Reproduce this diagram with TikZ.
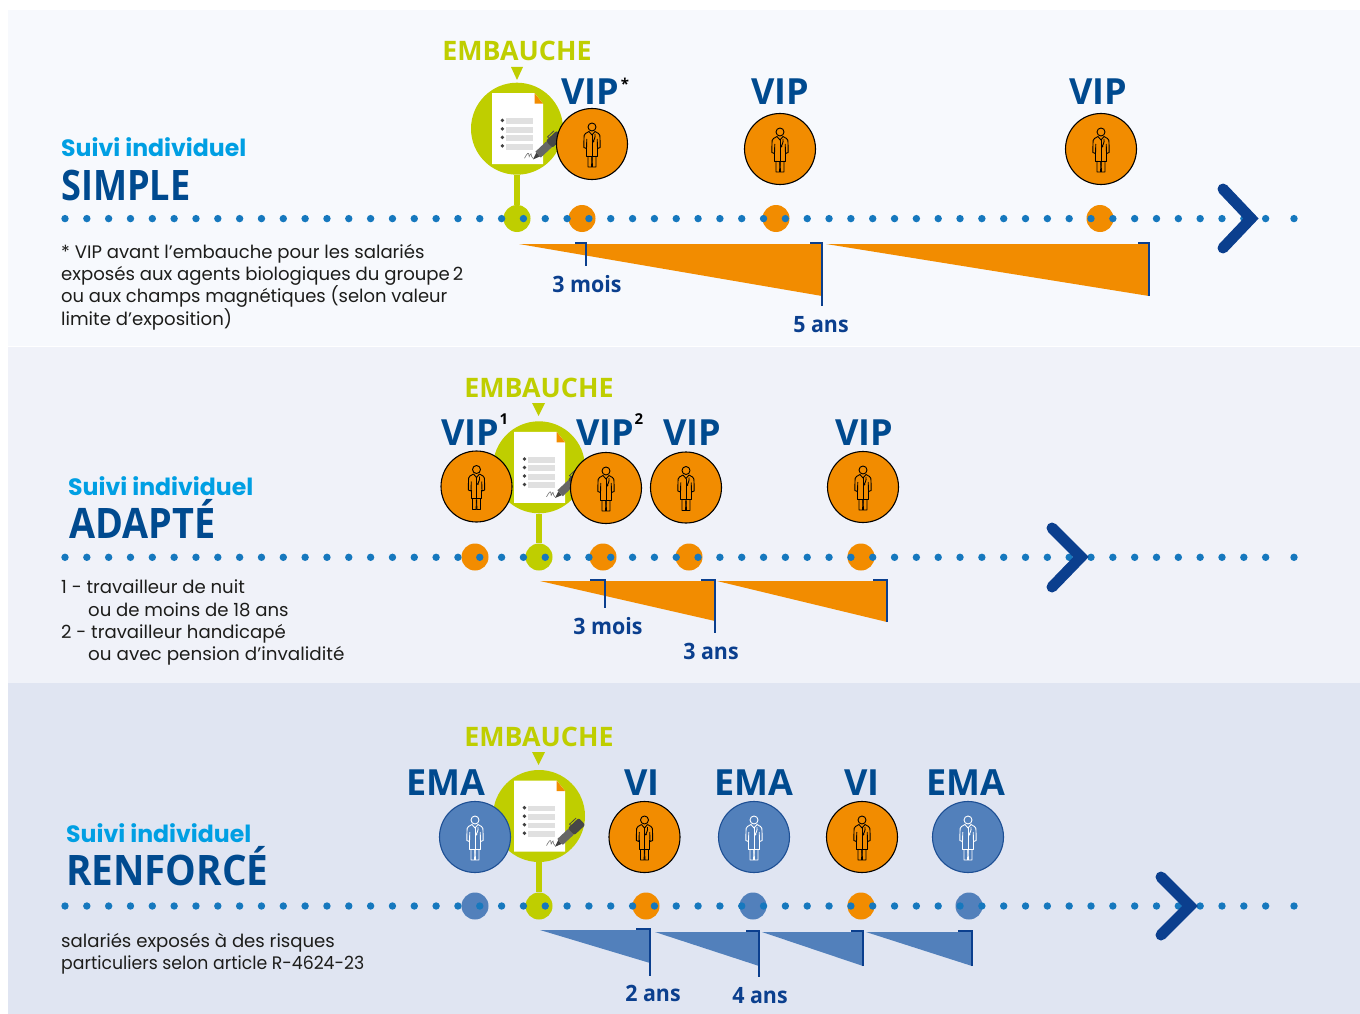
\documentclass[tikz,border=0pt]{standalone}
\usepackage{fontspec}
\setmainfont{Poppins}
\newfontfamily\myr{Open Sans}
\newfontfamily\myrh[FakeStretch=0.9]{Open Sans}
\newfontfamily\myrs[FakeStretch=0.86]{Open Sans}
\newfontfamily\myrr[FakeStretch=0.92]{Open Sans}
\newfontfamily\myrd[FakeStretch=0.95]{Open Sans}
\newfontfamily\gth{Poppins}
\newfontfamily\gthn[FakeStretch=0.955]{Poppins}
\newfontfamily\gthm[FakeStretch=0.992]{Poppins}
\newfontfamily\gthw[FakeStretch=1.015]{Poppins}
\definecolor{pa}{HTML}{F7F9FD}
\definecolor{pb}{HTML}{F0F2F9}
\definecolor{pc}{HTML}{E0E5F2}
\definecolor{org}{HTML}{F28C00}
\definecolor{navy}{HTML}{0B3F8E}
\definecolor{titl}{HTML}{004A8F}
\definecolor{blu}{HTML}{5280BB}
\definecolor{bluedge}{HTML}{1D4F94}
\definecolor{grn}{HTML}{BFCE00}
\definecolor{dotc}{HTML}{1678BE}
\definecolor{cyan}{HTML}{009FE3}
\definecolor{txt}{HTML}{1D1D1B}
\tikzset{
  doctor/.pic={
    \begin{scope}[line width=.9pt,line join=round,fill=none]
      \draw (0,-17) circle (4);
      \draw (-3,-12.5) -- (-6.5,-10.5) .. controls (-8,-9.5) and (-8,-8) .. (-8,-6) -- (-8.2,3.5) -- (-5.5,4.5) -- (-5.2,-5);
      \draw (3,-12.5) -- (6.5,-10.5) .. controls (8,-9.5) and (8,-8) .. (8,-6) -- (8.2,3.5) -- (5.5,4.5) -- (5.2,-5);
      \draw (-5.2,3) -- (-5.2,12) -- (5.2,12) -- (5.2,3);
      \draw (-4,12) -- (-4,23) -- (-.4,23) -- (-.1,13);
      \draw (4,12) -- (4,23) -- (.4,23) -- (.1,13);
      \draw (-3,-12.5) -- (0,-9) -- (3,-12.5);
      \draw (0,-9) -- (0,12);
      \draw (3,-10) .. controls (3.5,-6) and (2,-5) .. (1.5,-3);
      \fill (1.4,-2.5) circle (1);
    \end{scope}
  },
  docpage/.pic={
    \fill[white] (-25,-35.5) -- (17.6,-35.5) -- (26,-25) -- (26,35.5) -- (-25,35.5) -- cycle;
    \fill[org] (17.6,-35.5) -- (26,-25) -- (17.6,-25) -- cycle;
    \foreach \yy in {-7.5,1,9.5,18}{
      \fill[black!12] (-11.5,\yy-2.9) rectangle (16,\yy+2.9);
      \fill[black!75] (-14.6,\yy-.8) circle (1.9);
    }
    \draw[black!55,line width=.6pt] (7.5,29.5) .. controls (10,25) and (12,22) .. (12,27) .. controls (12,30) and (13,25) .. (14,25) .. controls (14.5,27) and (14.5,29) .. (16,29.5);
    \begin{scope}[shift={(16,30.7)},x={(0.73pt,0.683pt)},y={(0.683pt,-0.73pt)}]
      \fill[black!75] (0,0) -- (7,-2.6) -- (7,2.6) -- cycle;
      \fill[black!60] (7,-4) -- (22,-4) -- (22,4) -- (7,4) -- cycle;
      \fill[black!72,rounded corners=2pt] (22,-4.8) -- (37,-4.8) -- (37,4.8) -- (22,4.8) -- cycle;
      \draw[black!72,line width=.8pt] (26,-4.8) -- (26,-6.5) -- (35,-6.5);
    \end{scope}
  },
  bigc/.style={circle,fill=grn,minimum size=92pt,inner sep=0pt},
  gdot/.style={circle,fill=grn,minimum size=27pt,inner sep=0pt},
  stem/.style={grn,line width=6pt},
  odot/.style={circle,fill=org,minimum size=27pt,inner sep=0pt},
  bdot/.style={circle,fill=blu,minimum size=27pt,inner sep=0pt},
  odisc/.style={circle,draw=black,line width=1.1pt,fill=org,minimum size=71pt,inner sep=0pt},
  bdisc/.style={circle,draw=bluedge,line width=1.1pt,fill=blu,minimum size=71pt,inner sep=0pt},
  big/.style={font=\myr\bfseries\fontsize{36}{36}\selectfont,text=titl,anchor=base,inner sep=0pt},
  emb/.style={font=\myr\bfseries\fontsize{26.8}{26.8}\selectfont,text=grn,anchor=base,inner sep=0pt},
  suivi/.style={font=\gth\bfseries\fontsize{23.6}{23.6}\selectfont,text=cyan,anchor=base west,inner sep=0pt},
  head/.style={font=\myrh\bfseries\fontsize{42}{42}\selectfont,text=titl,anchor=base west,inner sep=0pt},
  body/.style={font=\gth\fontsize{18.1}{22.3}\selectfont,text=txt,anchor=north west,inner sep=0pt,align=left},
  dur/.style={font=\myrd\bfseries\fontsize{22.5}{22.5}\selectfont,text=navy,anchor=base,inner sep=0pt},
  sup/.style={font=\myr\bfseries\fontsize{15}{15}\selectfont,text=black,anchor=base,inner sep=0pt},
  brk/.style={navy,line width=2pt,line cap=butt,line join=miter},
  chev/.style={navy,line width=11pt,line cap=round,line join=miter},
}
\newcommand{\dotrow}[1]{%
  \foreach \k in {0,...,55}{\fill[dotc] ({65+21.83*\k},#1) circle (3.7);}
  \fill[dotc] (1294,#1) circle (3.7);
}
\begin{document}
\begin{tikzpicture}[x=1pt,y=-1pt]
\useasboundingbox (0,0) rectangle (1360,1014);
\fill[white] (0,0) rectangle (1360,1014);
\fill[pa] (8,10) rectangle (1360,346);
\fill[pb] (8,347) rectangle (1360,683);
\fill[pc] (8,683) rectangle (1360,1014);

% ---------- SIMPLE
\node[suivi] (s1) at (61,157) {Suivi individuel};
\node[head,font=\myrs\bfseries\fontsize{42}{42}\selectfont] (h1) at (61,200.5) {SIMPLE};
\node[body] (b1) at (61,244) {* VIP avant l’embauche pour les salariés\\exposés aux agents biologiques du groupe\,2\\{\gthm ou aux champs magnétiques (selon valeur}\\limite d’exposition)};
\node[emb] (e1) at (517,61) {EMBAUCHE};
\fill[grn] (511,67) -- (523,67) -- (517,80) -- cycle;
\node[bigc] (bc1) at (517,128.7) {};
\node[gdot] (gd1) at (517,218.5) {};
\draw[stem] (bc1) -- (gd1);
\pic at (517,128.7) {docpage};
\node[odisc] (c11) at (592,144) {}; \pic[color=black] at (592,144) {doctor};
\node[odisc] (c12) at (780,149) {}; \pic[color=black] at (780,149) {doctor};
\node[odisc] (c13) at (1101,149) {}; \pic[color=black] at (1101,149) {doctor};
\node[big] (v11) at (590,105) {VIP};
\node[big] (v12) at (780,105) {VIP};
\node[big] (v13) at (1098,105) {VIP};
\node[sup] (st1) at (625,90) {*};
\node[odot] (d11) at (582,218.5) {};
\node[odot] (d12) at (776,218.5) {};
\node[odot] (d13) at (1100,218.5) {};
\dotrow{218.6}
\draw[chev] (1223,189) -- (1251,218.5) -- (1223,248);
\fill[org] (519,244) -- (822,244) -- (822,296) -- cycle;
\fill[org] (826,244) -- (1149,244) -- (1149,296) -- cycle;
\draw[brk] (575,243) -- (586,243) -- (586,266);
\draw[brk] (810,243) -- (822,243) -- (822,306);
\draw[brk] (1138,243) -- (1149,243) -- (1149,296);
\node[dur] (l11) at (587,292) {3 mois};
\node[dur] (l12) at (821,332) {5 ans};

% ---------- ADAPTE
\node[suivi] (s2) at (68,495) {Suivi individuel};
\node[head] (h2) at (69,538) {ADAPTÉ};
\node[body] (b2) at (61,580) {1 - travailleur de nuit\\\hspace*{27pt}ou de moins de 18 ans\\2 - travailleur handicapé\\\hspace*{27pt}{\gthw ou avec pension d’invalidité}};
\node[emb] (e2) at (539,397) {EMBAUCHE};
\fill[grn] (532,403) -- (545,403) -- (538.5,416) -- cycle;
\node[bigc] (bc2) at (539,467.3) {};
\node[gdot] (gd2) at (539,557) {};
\draw[stem] (bc2) -- (gd2);
\pic at (539,467.3) {docpage};
\node[odisc] (c21) at (476.5,486.5) {}; \pic[color=black] at (476.5,486.5) {doctor};
\node[odisc] (c22) at (606,488) {}; \pic[color=black] at (606,488) {doctor};
\node[odisc] (c23) at (686,487.5) {}; \pic[color=black] at (686,487.5) {doctor};
\node[odisc] (c24) at (863,487) {}; \pic[color=black] at (863,487) {doctor};
\node[big] (v21) at (470,445) {VIP};
\node[big] (v22) at (605,445) {VIP};
\node[big] (v23) at (692,445) {VIP};
\node[big] (v24) at (864,445) {VIP};
\node[sup] (su1) at (504,424) {1};
\node[sup] (su2) at (639,424) {2};
\node[odot] (d21) at (475,557) {};
\node[odot] (d22) at (603,557) {};
\node[odot] (d23) at (689,557) {};
\node[odot] (d24) at (861,557) {};
\dotrow{557.3}
\draw[chev] (1052,528) -- (1081,557) -- (1052,587);
\fill[org] (540,581) -- (715,581) -- (715,621) -- cycle;
\fill[org] (717,581) -- (887,581) -- (887,622) -- cycle;
\draw[brk] (590,580) -- (605,580) -- (605,608);
\draw[brk] (701,580) -- (715,580) -- (715,633);
\draw[brk] (873,580) -- (887,580) -- (887,622);
\node[dur] (l21) at (608,634) {3 mois};
\node[dur] (l22) at (711,659) {3 ans};

% ---------- RENFORCE
\node[suivi] (s3) at (66,842) {Suivi individuel};
\node[head,font=\myrr\bfseries\fontsize{42}{42}\selectfont] (h3) at (66,885) {RENFORCÉ};
\node[body] (b3) at (61,933) {salariés exposés à des risques\\{\gthn particuliers selon article R-4624-23}};
\node[emb] (e3) at (539,746) {EMBAUCHE};
\fill[grn] (532,752) -- (545,752) -- (538.5,765) -- cycle;
\node[bigc] (bc3) at (539,816) {};
\node[gdot] (gd3) at (539,906) {};
\draw[stem] (bc3) -- (gd3);
\pic at (539,816) {docpage};
\node[bdisc] (c31) at (475,837) {}; \pic[color=white] at (475,837) {doctor};
\node[odisc] (c32) at (644.5,837) {}; \pic[color=black] at (644.5,837) {doctor};
\node[bdisc] (c33) at (754,837) {}; \pic[color=white] at (754,837) {doctor};
\node[odisc] (c34) at (862,837) {}; \pic[color=black] at (862,837) {doctor};
\node[bdisc] (c35) at (968,837) {}; \pic[color=white] at (968,837) {doctor};
\node[big] (v31) at (446,795) {EMA};
\node[big] (v32) at (642,795) {VI};
\node[big] (v33) at (754,795) {EMA};
\node[big] (v34) at (862,795) {VI};
\node[big] (v35) at (966,795) {EMA};
\node[bdot] (d31) at (475,906) {};
\node[odot] (d32) at (646,906) {};
\node[bdot] (d33) at (753,906) {};
\node[odot] (d34) at (861,906) {};
\node[bdot] (d35) at (969,906) {};
\dotrow{906}
\draw[chev] (1161,877) -- (1190,906) -- (1161,935);
\fill[blu] (540,930) -- (650,930) -- (650,963) -- cycle;
\fill[blu] (655,932) -- (759,932) -- (759,966) -- cycle;
\fill[blu] (762,932) -- (863,932) -- (863,966) -- cycle;
\fill[blu] (866,932) -- (972,932) -- (972,966) -- cycle;
\draw[brk] (636,929) -- (650,929) -- (650,976);
\draw[brk] (746,931) -- (759,931) -- (759,977);
\draw[brk] (851,931) -- (863,931) -- (863,966);
\draw[brk] (958,931) -- (972,931) -- (972,966);
\node[dur] (l31) at (653,1001) {2 ans};
\node[dur] (l32) at (760,1003) {4 ans};
\end{tikzpicture}
\end{document}
